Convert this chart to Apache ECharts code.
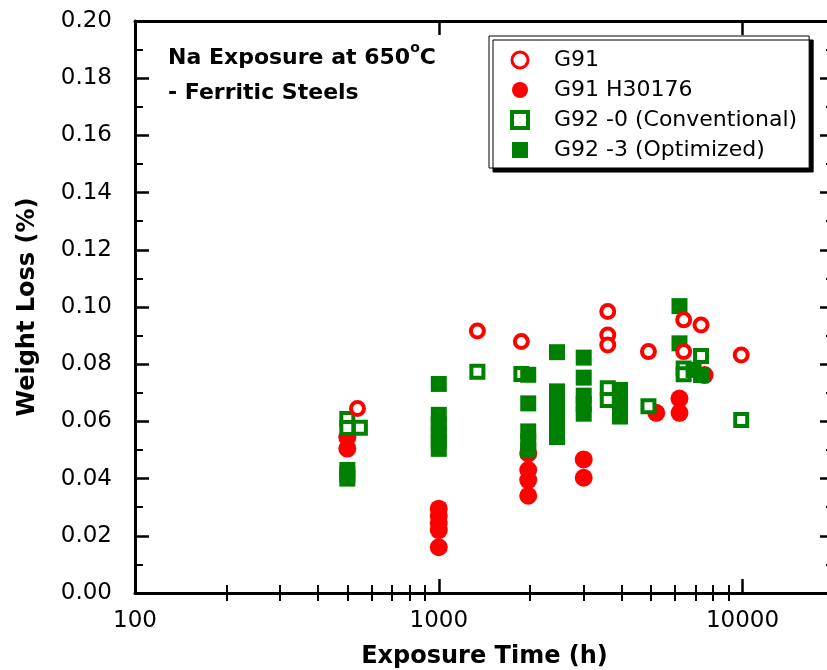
<!DOCTYPE html>
<html>
<head>
<meta charset="utf-8">
<script src="https://cdn.jsdelivr.net/npm/echarts@6/dist/echarts.min.js"></script>
<style>
  html, body { margin: 0; padding: 0; background: #fff; }
  #chart { width: 827px; height: 670px; }
</style>
</head>
<body>
<div id="chart"></div>
<script>
// data: [exposure time (h), weight loss (%)]
const g91Open = [
  [540, 0.0645], [1340, 0.0916], [1870, 0.0879],
  [3600, 0.0984], [3600, 0.0902], [3600, 0.0867],
  [4900, 0.0844], [6400, 0.0955], [6400, 0.0844],
  [7300, 0.0937], [9900, 0.0832]
];
const g91Heat = [
  [500, 0.0545], [500, 0.0505],
  [1000, 0.0295], [1000, 0.027], [1000, 0.0245], [1000, 0.022], [1000, 0.016],
  [1970, 0.0488], [1970, 0.043], [1970, 0.0395], [1970, 0.034],
  [3000, 0.0467], [3000, 0.0403],
  [5200, 0.063], [6200, 0.068], [6200, 0.063], [7500, 0.0762]
];
const g92Conv = [
  [500, 0.0608], [500, 0.0577], [550, 0.0578], [1340, 0.0774], [1870, 0.0766],
  [3600, 0.0716], [3600, 0.0675], [4900, 0.0653],
  [6400, 0.0785], [6400, 0.0765], [7300, 0.0829], [9900, 0.0605]
];
const g92Opt = [
  [500, 0.043], [500, 0.0415], [500, 0.040],
  [1000, 0.0731], [1000, 0.0623], [1000, 0.059], [1000, 0.056], [1000, 0.053], [1000, 0.0504],
  [1970, 0.0763], [1970, 0.0663], [1970, 0.0565], [1970, 0.053], [1970, 0.0499],
  [2450, 0.0842], [2450, 0.0705], [2450, 0.066], [2450, 0.062], [2450, 0.058], [2450, 0.0545],
  [3000, 0.0823], [3000, 0.0753], [3000, 0.069], [3000, 0.066], [3000, 0.0627],
  [3950, 0.071], [3950, 0.0657], [3950, 0.0617],
  [6200, 0.1003], [6200, 0.0873], [6900, 0.078], [7300, 0.0762]
];
const seriesNames = ["G91", "G91 H30176", "G92 -0 (Conventional)", "G92 -3 (Optimized)"];
const xMin = 100, xMax = 20000;
const xMinorTicks = [200, 300, 400, 500, 600, 700, 800, 900, 2000, 3000, 4000, 5000, 6000, 7000, 8000, 9000];

const FONT = "DejaVu Sans";
const RED = "#ff0000", GREEN = "#008000";

var chart = echarts.init(document.getElementById("chart"));

function majorX(pos, showLabel) {
  return {
    type: "log", logBase: 10, position: pos, min: xMin, max: xMax,
    name: showLabel ? "Exposure Time (h)" : "",
    nameLocation: "middle", nameGap: 52,
    nameTextStyle: { fontFamily: FONT, fontSize: 24, fontWeight: "bold", color: "#000" },
    axisLine: { show: true, onZero: false, lineStyle: { color: "#000", width: 3 } },
    axisTick: { show: true, inside: true, length: 14, lineStyle: { color: "#000", width: 2.5 } },
    axisLabel: {
      show: showLabel, margin: 17, fontFamily: FONT, fontSize: 23, color: "#000",
      showMaxLabel: false,
      formatter: (v) => String(Math.round(v))
    },
    minorTick: { show: false },
    splitLine: { show: false }
  };
}
function minorX(pos) {
  return {
    type: "value", position: pos, min: 2, max: Math.log10(xMax),
    axisLine: { show: false },
    axisTick: {
      show: true, inside: true, length: 8,
      customValues: xMinorTicks.map((v) => Math.log10(v)),
      lineStyle: { color: "#000", width: 2 }
    },
    axisLabel: { show: false },
    splitLine: { show: false }
  };
}
function yAx(pos, showLabel) {
  return {
    type: "value", position: pos, min: 0, max: 0.2, interval: 0.02,
    name: showLabel ? "Weight Loss (%)" : "",
    nameLocation: "middle", nameGap: 95,
    nameTextStyle: { fontFamily: FONT, fontSize: 24, fontWeight: "bold", color: "#000" },
    axisLine: { show: true, onZero: false, lineStyle: { color: "#000", width: 3 } },
    axisTick: { show: true, inside: true, length: 14, lineStyle: { color: "#000", width: 2.5 } },
    minorTick: { show: true, splitNumber: 2, length: 8, lineStyle: { color: "#000", width: 2 } },
    axisLabel: {
      show: showLabel, margin: 23, fontFamily: FONT, fontSize: 23, color: "#000",
      formatter: (v) => v.toFixed(2)
    },
    splitLine: { show: false }
  };
}

let option = {
  animation: false,
  backgroundColor: "#fff",
  grid: { left: 135, top: 21, width: 699, height: 572, outerBoundsMode: "none" },
  title: {
    text: "{b|Na Exposure at 650}{s|o}{b|C}\n{b|- Ferritic Steels}",
    left: 168, top: 41, padding: 0,
    textStyle: {
      rich: {
        b: { fontFamily: FONT, fontSize: 22, fontWeight: "bold", color: "#000", lineHeight: 35 },
        s: { fontFamily: FONT, fontSize: 14, fontWeight: "bold", color: "#000", lineHeight: 24, verticalAlign: "top" }
      }
    }
  },
  legend: {
    orient: "vertical", left: 489, top: 36,
    padding: [13, 12, 7, 21],
    itemWidth: 16, itemHeight: 16, itemGap: 8,
    backgroundColor: "#fff", borderColor: "#000", borderWidth: 1,
    shadowColor: "#000", shadowBlur: 0, shadowOffsetX: 4, shadowOffsetY: 4,
    textStyle: { fontFamily: FONT, fontSize: 22, color: "#000", lineHeight: 22, padding: [0, 0, 0, 21] },
    data: [
      { name: seriesNames[0], itemStyle: { borderWidth: 3 } },
      { name: seriesNames[1] },
      { name: seriesNames[2], itemStyle: { borderWidth: 4 } },
      { name: seriesNames[3] }
    ]
  },
  xAxis: [majorX("bottom", true), minorX("bottom"), majorX("top", false), minorX("top")],
  yAxis: [yAx("left", true), yAx("right", false)],
  series: [
    {
      name: seriesNames[0], type: "scatter", data: g91Open, z: 5,
      symbol: "circle", symbolSize: 13,
      itemStyle: { color: "#fff", borderColor: RED, borderWidth: 4, opacity: 1 }
    },
    {
      name: seriesNames[1], type: "scatter", data: g91Heat, z: 2,
      symbol: "circle", symbolSize: 18,
      itemStyle: { color: RED, opacity: 1 }
    },
    {
      name: seriesNames[2], type: "scatter", data: g92Conv, z: 3,
      symbol: "rect", symbolSize: 12,
      itemStyle: { color: "#fff", borderColor: GREEN, borderWidth: 4, opacity: 1 }
    },
    {
      name: seriesNames[3], type: "scatter", data: g92Opt, z: 4,
      symbol: "rect", symbolSize: 16,
      itemStyle: { color: GREEN, opacity: 1 }
    }
  ]
};

chart.setOption(option);
</script>
</body>
</html>
